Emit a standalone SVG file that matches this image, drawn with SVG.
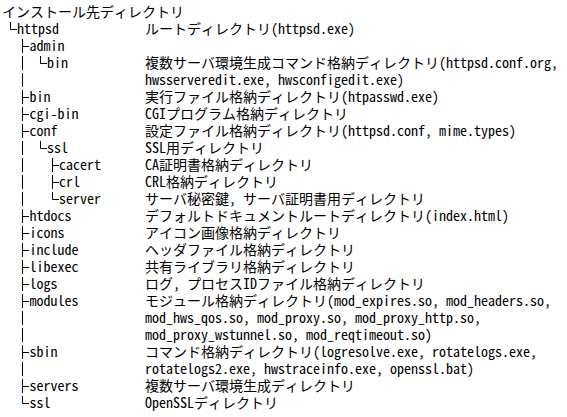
<svg xmlns="http://www.w3.org/2000/svg" width="567" height="417" viewBox="0 0 567 417">
<style>
text{font-family:"Noto Sans Mono CJK JP","Noto Sans CJK JP",monospace;font-size:14px;fill:#000}
.t{stroke:#000;stroke-width:1;fill:none}
</style>
<rect width="567" height="417" fill="#fff"/>
<g id="connectors">
<path class="t" d="M10.5 22V29.5H17"/>
<path class="t" d="M22.5 39V53M22.5 56V70M22.5 73V87M22.5 90V104M22.5 107V121M22.5 124V138M22.5 141V155M22.5 158V172M22.5 175V189M22.5 192V206M22.5 209V223M22.5 226V240M22.5 243V257M22.5 260V274M22.5 277V291M22.5 294V308M22.5 311V325M22.5 328V342M22.5 345V359M22.5 362V376M22.5 379V393M22.5 396V403.5"/>
<path class="t" d="M22.5 46.5H29M22.5 97.5H29M22.5 114.5H29M22.5 131.5H29M22.5 216.5H29M22.5 233.5H29M22.5 250.5H29M22.5 267.5H29M22.5 284.5H29M22.5 301.5H29M22.5 352.5H29M22.5 386.5H29M22.5 403.5H29"/>
<path class="t" d="M40.5 56V63.5H47"/>
<path class="t" d="M40.5 141V148.5H47"/>
<path class="t" d="M52.5 158V172M52.5 175V189M52.5 192V199.5M52.5 165.5H59M52.5 182.5H59M52.5 199.5H59"/>
</g>
<g id="title"><text x="2" y="17">インストール先ディレクトリ</text></g>
<g id="httpsd"><text x="17" y="34">httpsd</text><text x="145" y="34">ルートディレクトリ(httpsd.exe)</text></g>
<g id="admin"><text x="29.5" y="51">admin</text></g>
<g id="admin-bin"><text x="47" y="68">bin</text><text x="145" y="68">複数サーバ環境生成コマンド格納ディレクトリ(httpsd.conf.org,</text><text x="145" y="85">hwsserveredit.exe, hwsconfigedit.exe)</text></g>
<g id="bin"><text x="29.5" y="102">bin</text><text x="145" y="102">実行ファイル格納ディレクトリ(htpasswd.exe)</text></g>
<g id="cgi-bin"><text x="29.5" y="119">cgi-bin</text><text x="145" y="119">CGIプログラム格納ディレクトリ</text></g>
<g id="conf"><text x="29.5" y="136">conf</text><text x="145" y="136">設定ファイル格納ディレクトリ(httpsd.conf, mime.types)</text></g>
<g id="conf-ssl"><text x="47" y="153">ssl</text><text x="145" y="153">SSL用ディレクトリ</text></g>
<g id="cacert"><text x="59" y="170">cacert</text><text x="145" y="170">CA証明書格納ディレクトリ</text></g>
<g id="crl"><text x="59" y="187">crl</text><text x="145" y="187">CRL格納ディレクトリ</text></g>
<g id="server"><text x="59" y="204">server</text><text x="145" y="204">サーバ秘密鍵, サーバ証明書用ディレクトリ</text></g>
<g id="htdocs"><text x="29.5" y="221">htdocs</text><text x="145" y="221">デフォルトドキュメントルートディレクトリ(index.html)</text></g>
<g id="icons"><text x="29.5" y="238">icons</text><text x="145" y="238">アイコン画像格納ディレクトリ</text></g>
<g id="include"><text x="29.5" y="255">include</text><text x="145" y="255">ヘッダファイル格納ディレクトリ</text></g>
<g id="libexec"><text x="29.5" y="272">libexec</text><text x="145" y="272">共有ライブラリ格納ディレクトリ</text></g>
<g id="logs"><text x="29.5" y="289">logs</text><text x="145" y="289">ログ, プロセスIDファイル格納ディレクトリ</text></g>
<g id="modules"><text x="29.5" y="306">modules</text><text x="145" y="306">モジュール格納ディレクトリ(mod_expires.so, mod_headers.so,</text><text x="145" y="323">mod_hws_qos.so, mod_proxy.so, mod_proxy_http.so,</text><text x="145" y="340">mod_proxy_wstunnel.so, mod_reqtimeout.so)</text></g>
<g id="sbin"><text x="29.5" y="357">sbin</text><text x="145" y="357">コマンド格納ディレクトリ(logresolve.exe, rotatelogs.exe,</text><text x="145" y="374">rotatelogs2.exe, hwstraceinfo.exe, openssl.bat)</text></g>
<g id="servers"><text x="29.5" y="391">servers</text><text x="145" y="391">複数サーバ環境生成ディレクトリ</text></g>
<g id="ssl"><text x="29.5" y="408">ssl</text><text x="145" y="408">OpenSSLディレクトリ</text></g>
</svg>
